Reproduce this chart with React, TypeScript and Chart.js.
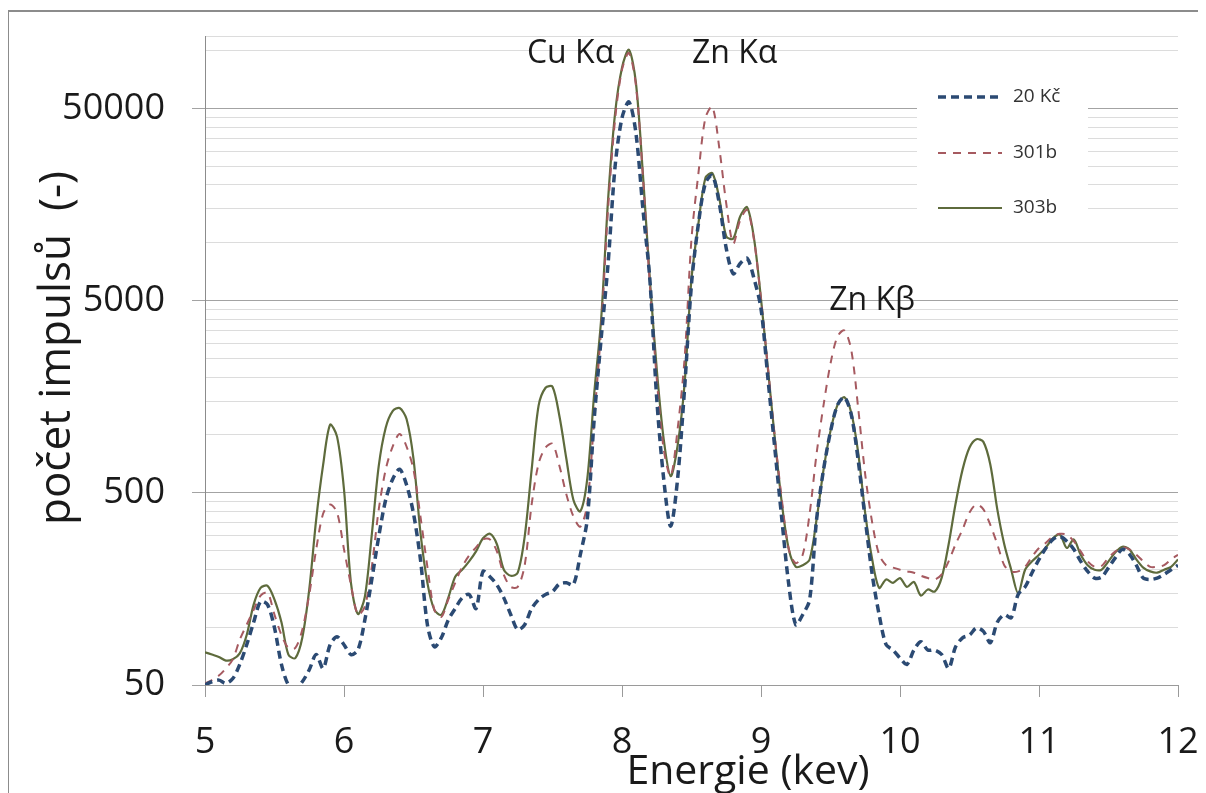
import React, { useEffect, useRef } from "react";
import { Chart, registerables } from "chart.js";

Chart.register(...registerables);

// Energy (keV) sample positions
const energy = [
  5.0, 5.05, 5.1, 5.15, 5.2, 5.25, 5.3, 5.35, 5.4, 5.45,
  5.5, 5.55, 5.6, 5.65, 5.7, 5.75, 5.8, 5.85, 5.9, 5.95,
  6.0, 6.05, 6.1, 6.15, 6.2, 6.25, 6.3, 6.35, 6.4, 6.45,
  6.5, 6.55, 6.6, 6.65, 6.7, 6.75, 6.8, 6.85, 6.9, 6.95,
  7.0, 7.05, 7.1, 7.15, 7.2, 7.25, 7.3, 7.35, 7.4, 7.45,
  7.5, 7.55, 7.6, 7.65, 7.7, 7.75, 7.8, 7.85, 7.9, 7.95,
  8.0, 8.05, 8.1, 8.15, 8.2, 8.25, 8.3, 8.35, 8.4, 8.45,
  8.5, 8.55, 8.6, 8.65, 8.7, 8.75, 8.8, 8.85, 8.9, 8.95,
  9.0, 9.05, 9.1, 9.15, 9.2, 9.25, 9.3, 9.35, 9.4, 9.45,
  9.5, 9.55, 9.6, 9.65, 9.7, 9.75, 9.8, 9.85, 9.9, 9.95,
  10.0, 10.05, 10.1, 10.15, 10.2, 10.25, 10.3, 10.35, 10.4, 10.45,
  10.5, 10.55, 10.6, 10.65, 10.7, 10.75, 10.8, 10.85, 10.9, 10.95,
  11.0, 11.05, 11.1, 11.15, 11.2, 11.25, 11.3, 11.35, 11.4, 11.45,
  11.5, 11.55, 11.6, 11.65, 11.7, 11.75, 11.8, 11.85, 11.9, 11.95,
  12.0,
];

// Series: 20 Kč (blue dashed)
const s20Kc = [
  50, 52, 53, 51, 54, 64, 81, 106, 136, 131,
  99, 64, 50, 48, 52, 60, 72, 61, 81, 89,
  81, 72, 76, 109, 177, 296, 460, 588, 663, 550,
  390, 225, 103, 79, 88, 109, 125, 142, 148, 125,
  195, 183, 166, 142, 116, 97, 103, 125, 139, 148,
  153, 168, 170, 166, 238, 364, 1210, 3170, 7800, 24800,
  44600, 54000, 37300, 15100, 6500, 1540, 590, 335, 590, 1735,
  6100, 12600, 20400, 22400, 16000, 9350, 6900, 7800, 8300, 6500,
  4540, 1960, 843, 364, 166, 103, 116, 139, 364, 660,
  1040, 1430, 1570, 1270, 730, 364, 188, 116, 81, 76,
  69, 64, 76, 84, 76, 76, 72, 61, 79, 88,
  91, 99, 95, 83, 106, 116, 112, 148, 162, 192,
  225, 258, 286, 296, 280, 254, 220, 195, 180, 182,
  204, 230, 254, 240, 210, 180, 177, 180, 188, 199,
  210,
];

// Series: 301b (red dashed)
const s301b = [
  51, 53, 56, 61, 68, 86, 103, 123, 146, 151,
  116, 91, 78, 78, 97, 148, 254, 390, 435, 395,
  254, 166, 116, 128, 206, 410, 660, 870, 1010, 870,
  660, 377, 206, 123, 113, 139, 170, 206, 236, 260,
  286, 286, 248, 187, 162, 162, 210, 435, 710, 860,
  900, 690, 490, 377, 333, 435, 1210, 3570, 15100, 43600,
  79500, 97000, 66000, 22400, 6100, 1960, 843, 610, 1070, 2490,
  10500, 23000, 44600, 51000, 31100, 16000, 9900, 13100, 14800, 10300,
  5100, 2250, 970, 460, 254, 215, 238, 390, 800, 1430,
  2350, 3250, 3500, 2750, 1360, 620, 350, 238, 210, 204,
  199, 195, 192, 185, 180, 177, 188, 220, 270, 322,
  395, 435, 410, 340, 270, 210, 195, 195, 206, 233,
  258, 275, 296, 306, 303, 280, 248, 220, 206, 208,
  230, 248, 260, 254, 238, 220, 206, 206, 210, 225,
  238,
];

// Series: 303b (olive solid)
const s303b = [
  74, 72, 70, 67, 68, 73, 91, 131, 160, 164,
  139, 106, 72, 69, 88, 157, 364, 700, 1130, 980,
  520, 170, 117, 144, 303, 690, 1090, 1330, 1380, 1210,
  750, 310, 170, 123, 116, 142, 183, 199, 220, 248,
  290, 306, 270, 199, 185, 192, 296, 660, 1420, 1760,
  1780, 1250, 750, 460, 400, 590, 1640, 4000, 16800, 47000,
  81400, 101000, 68000, 23000, 6500, 2200, 950, 610, 880, 1840,
  6500, 12600, 21700, 23000, 17000, 10800, 10500, 13700, 15300, 10500,
  5100, 2200, 950, 440, 254, 206, 210, 225, 364, 660,
  1050, 1430, 1570, 1300, 800, 390, 225, 160, 177, 170,
  180, 162, 172, 146, 157, 153, 181, 270, 440, 660,
  860, 950, 920, 700, 410, 270, 199, 150, 199, 220,
  238, 260, 290, 303, 258, 286, 238, 210, 199, 199,
  220, 245, 262, 254, 225, 204, 195, 192, 199, 206,
  225,
];

const seriesLabels = ["20 Kč", "301b", "303b"];
const seriesColors = ["#2b4a73", "#a65a60", "#5e6b3c"];

// Axis ticks
const xTicks = [5, 6, 7, 8, 9, 10, 11, 12];
const yMajorTicks = [50, 500, 5000, 50000];
const yGridValues = [
  50, 100, 150, 200, 250, 300, 350, 400, 450,
  500, 1000, 1500, 2000, 2500, 3000, 3500, 4000, 4500,
  5000, 10000, 15000, 20000, 25000, 30000, 35000, 40000, 45000,
  50000, 100000, 119000,
];
const yMin = 50;
const yMax = 119000;

// Peak annotations (anchored in data space)
const peakLabels = ["Cu Kα", "Zn Kα", "Zn Kβ"];
const peakEnergy = [7.63, 8.81, 9.8];
const peakCount = [86400, 86400, 4490];

const FONT = "'Open Sans', 'DejaVu Sans', sans-serif";

const zeroPad = (s: any) => {
  s.paddingTop = 0;
  s.paddingBottom = 0;
  s.paddingLeft = 0;
  s.paddingRight = 0;
};

export default function App() {
  const canvasRef = useRef<HTMLCanvasElement | null>(null);

  useEffect(() => {
    const canvas = canvasRef.current;
    if (!canvas) return;

    const decor = {
      id: "decor",
      beforeDatasetsDraw(chart: any) {
        const ctx = chart.ctx;
        // legend box
        ctx.save();
        ctx.fillStyle = "#ffffff";
        ctx.fillRect(909, 60, 171, 168);
        const rows = [89, 145, 200];
        const widths = [3.5, 2, 2.2];
        const dashes = [[8, 5], [8, 7], []];
        rows.forEach((ry, i) => {
          ctx.beginPath();
          ctx.setLineDash(dashes[i]);
          ctx.lineWidth = widths[i];
          ctx.strokeStyle = seriesColors[i];
          ctx.moveTo(930, ry);
          ctx.lineTo(994, ry);
          ctx.stroke();
          ctx.setLineDash([]);
          ctx.fillStyle = "#333333";
          ctx.font = `19px ${FONT}`;
          ctx.textAlign = "left";
          ctx.textBaseline = "middle";
          ctx.fillText(seriesLabels[i], 1005, ry);
        });
        ctx.restore();
      },
      afterDraw(chart: any) {
        const ctx = chart.ctx;
        const xs = chart.scales.x;
        const ys = chart.scales.y;
        ctx.save();
        ctx.fillStyle = "#1a1a1a";
        // peak labels
        ctx.font = `32px ${FONT}`;
        ctx.textAlign = "center";
        ctx.textBaseline = "alphabetic";
        peakLabels.forEach((t, i) => {
          ctx.fillText(t, xs.getPixelForValue(peakEnergy[i]), ys.getPixelForValue(peakCount[i]));
        });
        // x title
        ctx.font = `41px ${FONT}`;
        ctx.fillText("Energie (kev)", 740, 776);
        // y title
        ctx.translate(62, 340);
        ctx.rotate(-Math.PI / 2);
        ctx.font = `44px ${FONT}`;
        ctx.fillText("počet impulsů  (-)", 0, 0);
        ctx.restore();
      },
    };

    const mk = (vals: number[]) => energy.map((x, i) => ({ x, y: vals[i] }));

    const chart = new Chart(canvas, {
      type: "line",
      data: {
        datasets: [
          {
            label: seriesLabels[0],
            data: mk(s20Kc),
            borderColor: seriesColors[0],
            borderWidth: 3.5,
            borderDash: [8, 5],
            pointRadius: 0,
            tension: 0.3,
            fill: false,
          },
          {
            label: seriesLabels[1],
            data: mk(s301b),
            borderColor: seriesColors[1],
            borderWidth: 2,
            borderDash: [8, 7],
            pointRadius: 0,
            tension: 0.3,
            fill: false,
          },
          {
            label: seriesLabels[2],
            data: mk(s303b),
            borderColor: seriesColors[2],
            borderWidth: 2.2,
            pointRadius: 0,
            tension: 0.3,
            fill: false,
          },
        ],
      },
      options: {
        animation: false,
        responsive: false,
        layout: { padding: { top: 28, right: 28, left: 0, bottom: 0 } },
        plugins: {
          legend: { display: false },
          tooltip: { enabled: false },
        },
        scales: {
          x: {
            type: "linear",
            min: 5,
            max: 12,
            afterBuildTicks: (s: any) => {
              s.ticks = xTicks.map((v) => ({ value: v }));
            },
            ticks: {
              color: "#1a1a1a",
              font: { family: FONT, size: 36 },
              padding: 24,
              maxRotation: 0,
              autoSkip: false,
            },
            grid: {
              drawOnChartArea: false,
              drawTicks: true,
              tickLength: 12,
              color: "#9a9a9a",
            },
            border: { color: "#9a9a9a", width: 1 },
            afterFit: (s: any) => {
              s.height = 108;
              zeroPad(s);
            },
          },
          y: {
            type: "logarithmic",
            min: yMin,
            max: yMax,
            afterBuildTicks: (s: any) => {
              s.ticks = yGridValues.map((v) => ({ value: v }));
            },
            ticks: {
              autoSkip: false,
              color: "#1a1a1a",
              font: { family: FONT, size: 36 },
              padding: 27,
              callback: (v: any) => (yMajorTicks.includes(Number(v)) ? String(v) : ""),
            },
            grid: {
              color: (c: any) =>
                c.tick && yMajorTicks.includes(c.tick.value) ? "#a3a3a3" : "#dcdcdc",
              tickColor: (c: any) =>
                c.tick && yMajorTicks.includes(c.tick.value) ? "#a3a3a3" : "rgba(0,0,0,0)",
              tickLength: 13,
              lineWidth: 1,
            },
            border: { color: "#8c8c8c", width: 1 },
            afterFit: (s: any) => {
              s.width = 197;
              zeroPad(s);
            },
          },
        },
      },
      plugins: [decor],
    } as any);

    return () => chart.destroy();
  }, []);

  return (
    <div style={{ position: "relative", width: 1198, height: 785, background: "#fff" }}>
      <div
        style={{
          position: "absolute",
          top: 2,
          left: -1,
          right: 0,
          bottom: 0,
          borderTop: "2px solid #8c8c8c",
          borderLeft: "2px solid #8c8c8c",
        }}
      />
      <canvas
        ref={canvasRef}
        width={1198}
        height={785}
        style={{ position: "absolute", left: 0, top: 0, width: 1198, height: 785 }}
      />
    </div>
  );
}
